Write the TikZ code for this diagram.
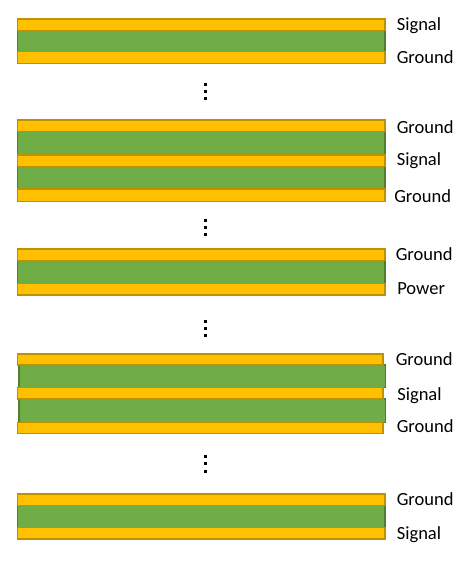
\documentclass[tikz,border=0pt]{standalone}
\usepackage{fontspec}
\setmainfont{Carlito}
\definecolor{copperfill}{HTML}{FFC000}
\definecolor{copperline}{HTML}{BF9000}
\definecolor{corefill}{HTML}{70AD47}
\definecolor{coreline}{HTML}{507E32}
\begin{document}
\begin{tikzpicture}[x=0.75pt,y=0.75pt,yscale=-1,xscale=1,
    copper/.style={fill=copperfill,draw=copperline,line width=1.1pt},
    core/.style={fill=corefill,draw=coreline,line width=1.1pt},
    lbl/.style={anchor=base west,inner sep=0pt,font=\fontsize{13.9}{16}\selectfont}]
\useasboundingbox (0,0) rectangle (472,564);
% stack 1
\draw [core] (17.3,30.7) rectangle (385,51.7);
\draw [copper] (17.3,19) rectangle (385,30.7);
\draw [copper] (17.3,51.7) rectangle (385,63.3);
\node [lbl] (sigA) at (396.5,31) {Signal};
\node [lbl] (gndA) at (396.5,63.3) {Ground};
% stack 2
\draw [core] (17.3,131.7) rectangle (385,155);
\draw [core] (17.3,166.7) rectangle (385,189);
\draw [copper] (17.3,120) rectangle (385,131.7);
\draw [copper] (17.3,155) rectangle (385,166.7);
\draw [copper] (17.3,189) rectangle (385,201.7);
\node [lbl] (gndB) at (396.5,133.3) {Ground};
\node [lbl] (sigB) at (396.5,165) {Signal};
\node [lbl] (gndC) at (394,202.3) {Ground};
% stack 3
\draw [core] (17.3,260.7) rectangle (385,283.3);
\draw [copper] (17.3,249) rectangle (385,260.7);
\draw [copper] (17.3,283.3) rectangle (385,295);
\node [lbl] (gndD) at (395.5,260) {Ground};
\node [lbl] (pwrA) at (397,294.3) {Power};
% stack 4
\draw [core] (19,365) rectangle (385.7,387.7);
\draw [core] (19,399) rectangle (385.7,422.3);
\draw [copper] (17.3,354) rectangle (383,365);
\draw [copper] (17.3,387.7) rectangle (383,399);
\draw [copper] (17.3,422.3) rectangle (383,433.3);
\node [lbl] (gndE) at (395.5,365) {Ground};
\node [lbl] (sigC) at (397,400) {Signal};
\node [lbl] (gndF) at (396.5,432.3) {Ground};
% stack 5
\draw [core] (17.3,505.7) rectangle (385,527.3);
\draw [copper] (17.3,494) rectangle (385,505.7);
\draw [copper] (17.3,527.3) rectangle (385,539);
\node [lbl] (gndG) at (396.5,505) {Ground};
\node [lbl] (sigD) at (396.5,539) {Signal};
% dots between stacks
\foreach \y in {84.3,91.7,98.7,220,227.3,234.3,321,328.3,335,456.3,463.7,471.3}
    \fill (204,\y-1.5) rectangle (207,\y+1.5);
\end{tikzpicture}
\end{document}
